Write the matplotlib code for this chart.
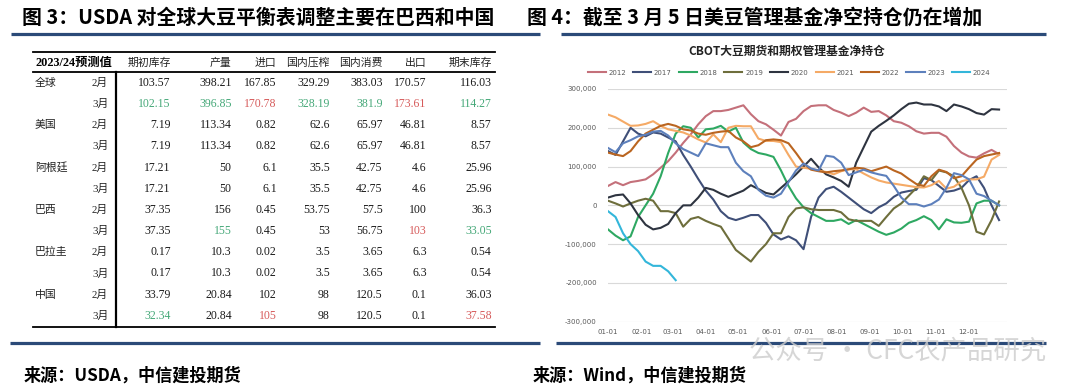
import numpy as np
import matplotlib
matplotlib.use("Agg")
import matplotlib.pyplot as plt
from matplotlib.ticker import FuncFormatter

CJK = ["Noto Sans CJK SC", "DejaVu Sans"]
SERIF = ["Liberation Serif", "Noto Sans CJK SC"]

# ---------------------------------------------------------------
# Left panel: USDA 2023/24 balance sheet (Feb vs Mar estimates)
# ---------------------------------------------------------------
table_cols = ["期初库存", "产量", "进口", "国内压榨", "国内消费", "出口", "期末库存"]
countries = ["全球", "美国", "阿根廷", "巴西", "巴拉圭", "中国"]
months = ["2月", "3月"]
table_rows = [
    ["103.57", "398.21", "167.85", "329.29", "383.03", "170.57", "116.03"],
    ["102.15", "396.85", "170.78", "328.19", "381.9", "173.61", "114.27"],
    ["7.19", "113.34", "0.82", "62.6", "65.97", "46.81", "8.57"],
    ["7.19", "113.34", "0.82", "62.6", "65.97", "46.81", "8.57"],
    ["17.21", "50", "6.1", "35.5", "42.75", "4.6", "25.96"],
    ["17.21", "50", "6.1", "35.5", "42.75", "4.6", "25.96"],
    ["37.35", "156", "0.45", "53.75", "57.5", "100", "36.3"],
    ["37.35", "155", "0.45", "53", "56.75", "103", "33.05"],
    ["0.17", "10.3", "0.02", "3.5", "3.65", "6.3", "0.54"],
    ["0.17", "10.3", "0.02", "3.5", "3.65", "6.3", "0.54"],
    ["33.79", "20.84", "102", "98", "120.5", "0.1", "36.03"],
    ["32.34", "20.84", "105", "98", "120.5", "0.1", "37.58"],
]
# revisions marked in the table: g = cut, r = raised
marks = {
    (1, 0): "g", (1, 1): "g", (1, 2): "r", (1, 3): "g", (1, 4): "g", (1, 5): "r", (1, 6): "g",
    (7, 1): "g", (7, 5): "r", (7, 6): "g",
    (11, 0): "g", (11, 2): "r", (11, 6): "r",
}

# ---------------------------------------------------------------
# Right panel: CBOT soybean managed-money net position (weekly, k lots)
# ---------------------------------------------------------------
years = ["2012", "2017", "2018", "2019", "2020", "2021", "2022", "2023", "2024"]
pos_2012 = [50, 60, 52, 60, 63, 67, 80, 97, 114, 136, 161, 183, 209, 230, 243, 243, 246, 252, 258, 235,
            217, 209, 195, 180, 215, 223, 243, 256, 258, 258, 246, 239, 230, 239, 252, 241, 243, 232, 217, 213,
            204, 191, 185, 187, 187, 177, 153, 136, 126, 123, 134, 143, 132]
pos_2017 = [140, 130, 165, 200, 185, 178, 188, 185, 175, 165, 130, 100, 68, 38, 15, -15, -32, -38, -32, -25,
            -25, -45, -75, -88, -80, -90, -113, -30, 20, 42, 48, 35, 20, 5, -10, -20, -5, 5, 22, 33,
            37, 40, 70, 65, 50, 35, 38, 45, 65, 75, 45, 0, -38]
pos_2018 = [-62, -78, -90, -80, -30, 0, 30, 75, 135, 185, 204, 200, 175, 196, 198, 205, 190, 200, 162, 145,
            135, 131, 125, 90, 50, 18, -5, -20, -30, -40, -40, -36, -48, -38, -48, -58, -68, -76, -70, -60,
            -45, -38, -28, -38, -62, -36, -44, -45, -42, 5, 12, 12, 0]
pos_2019 = [12, 5, -3, 5, 12, 17, 12, -15, -15, -20, -55, -35, -30, -40, -48, -55, -85, -115, -130, -145,
            -120, -100, -72, -72, -30, -8, -5, -10, -12, -12, -12, -18, -36, -40, -40, -40, -53, -30, -8, 5,
            25, 45, 75, 65, 90, 85, 75, 45, 0, -68, -75, -38, 10]
pos_2020 = [20, 26, 28, 5, -25, -50, -62, -58, -48, -20, 0, 0, 20, 45, 40, 30, 22, 30, 38, 52,
            42, 32, 28, 45, 62, 80, 100, 120, 98, 80, 72, 63, 48, 110, 150, 190, 205, 218, 232, 248,
            262, 265, 260, 260, 255, 243, 260, 255, 248, 238, 234, 248, 247]
pos_2021 = [234, 227, 216, 205, 206, 210, 217, 205, 196, 192, 188, 180, 170, 162, 183, 163, 200, 205, 204, 204,
            172, 166, 166, 163, 130, 100, 97, 94, 90, 86, 80, 88, 93, 93, 82, 72, 64, 59, 56, 53,
            50, 47, 46, 52, 63, 43, 48, 62, 67, 67, 74, 118, 130]
pos_2022 = [136, 131, 127, 140, 165, 185, 195, 205, 210, 205, 196, 193, 185, 182, 187, 190, 192, 175, 165, 150,
            155, 168, 170, 168, 160, 135, 108, 92, 88, 85, 88, 90, 93, 97, 95, 88, 94, 100, 90, 82,
            68, 55, 50, 75, 92, 86, 70, 75, 97, 118, 127, 131, 135]
pos_2023 = [148, 137, 160, 168, 178, 182, 190, 192, 180, 160, 145, 136, 127, 160, 155, 150, 150, 110, 88, 75,
            40, 25, 20, 30, 60, 90, 108, 95, 90, 128, 125, 110, 78, 85, 92, 85, 80, 76, 50, 20,
            3, 3, -3, 3, 15, 45, 83, 78, 67, 30, 24, 12, 0]
pos_2024 = [-15, -30, -72, -100, -118, -145, -156, -156, -170, -193]

month_days = [0, 31, 60, 91, 121, 152, 182, 213, 244, 274, 305, 335]
month_labels = ["01-01", "02-01", "03-01", "04-01", "05-01", "06-01",
                "07-01", "08-01", "09-01", "10-01", "11-01", "12-01"]

colors = ["#C4707A", "#3F4F78", "#2EA862", "#6E6E3C", "#2E3440",
          "#F5AA66", "#BA6520", "#5D80BC", "#33B6DA"]

W, H = 1080, 389
def fx(px):
    return px / W
def fy(py):
    return 1 - py / H

fig = plt.figure(figsize=(10.8, 3.89), dpi=100)
bg = fig.add_axes([0, 0, 1, 1])
bg.set_xlim(0, W)
bg.set_ylim(H, 0)
bg.axis("off")

navy = "#2B4A78"
# headings + rules
bg.text(22, 17, "图 3：USDA 对全球大豆平衡表调整主要在巴西和中国", fontsize=14.3,
        fontweight="bold", family=CJK, va="center", ha="left")
bg.text(527, 17, "图 4：截至 3 月 5 日美豆管理基金净空持仓仍在增加", fontsize=14.3,
        fontweight="bold", family=CJK, va="center", ha="left")
bg.plot([11, 540], [34, 34], color=navy, lw=2.3, solid_capstyle="butt")
bg.plot([561, 1046], [34, 34], color=navy, lw=2.3, solid_capstyle="butt")
bg.plot([10, 540], [343, 343], color=navy, lw=2.3, solid_capstyle="butt")
bg.plot([556, 1046], [343, 343], color=navy, lw=2.3, solid_capstyle="butt")
bg.text(24, 376, "来源：USDA，中信建投期货", fontsize=12.3, fontweight="bold",
        family=CJK, va="center", ha="left")
bg.text(533, 376, "来源：Wind，中信建投期货", fontsize=12.3, fontweight="bold",
        family=CJK, va="center", ha="left")

# ---- table ----
col_x = [170.7, 231.7, 276.7, 330, 382.7, 426.7, 491.7]
row_y0, row_dy = 82.7, 21.2
mark_colors = {"g": "#45A878", "r": "#D65A5A"}

bg.plot([33, 495], [51.7, 51.7], color="black", lw=1.3)
bg.plot([33, 495], [72.3, 72.3], color="black", lw=1.3)
bg.plot([33, 495], [326.7, 326.7], color="black", lw=1.3)
bg.plot([115.7, 115.7], [72.3, 326.7], color="black", lw=1.6)

bg.text(35, 62.5, "2023/24预测值", fontsize=8.8, fontweight="bold", family=SERIF,
        va="center", ha="left")
for cx, name in zip(col_x, table_cols):
    bg.text(cx, 62.5, name, fontsize=7.8, family=CJK, va="center", ha="right", color="#222222")

for i, row in enumerate(table_rows):
    y = row_y0 + row_dy * i
    if i % 2 == 0:
        bg.text(35, y, countries[i // 2], fontsize=7.8, family=CJK, va="center", ha="left",
                color="#222222")
    bg.text(92, y, months[i % 2], fontsize=7.8, family=SERIF, va="center", ha="left",
            color="#222222")
    for j, val in enumerate(row):
        c = mark_colors.get(marks.get((i, j), ""), "#1a1a1a")
        bg.text(col_x[j], y, val, fontsize=8.5, family=SERIF, va="center", ha="right", color=c)

# ---- line chart ----
ax = fig.add_axes([fx(608), fy(321.7), fx(1006.6) - fx(608), fy(89) - fy(321.7)])
series = [pos_2012, pos_2017, pos_2018, pos_2019, pos_2020, pos_2021, pos_2022, pos_2023, pos_2024]
for yr, vals, c in zip(years, series, colors):
    ax.plot(np.arange(len(vals)), np.array(vals) * 1000, color=c, lw=1.5, label=yr)

ax.set_xlim(0, 53)
ax.set_ylim(-300000, 300000)
ax.set_yticks(np.arange(-300000, 300001, 100000))
ax.yaxis.set_major_formatter(FuncFormatter(lambda v, p: f"{v:,.0f}"))
ax.set_xticks(np.array(month_days) / 7)
ax.set_xticklabels(month_labels)
ax.grid(axis="y", color="#D9D9D9", lw=0.8)
ax.set_axisbelow(True)
for s in ax.spines.values():
    s.set_visible(False)
ax.tick_params(axis="y", length=0, labelsize=5, colors="#595959", pad=8)
ax.tick_params(axis="x", length=0, labelsize=5, colors="#595959", pad=5)

fig.text(fx(787), fy(51), "CBOT大豆期货和期权管理基金净持仓", fontsize=8.5, fontweight="bold",
         family=CJK, ha="center", va="center", color="#222222")
ax.legend(loc="center", bbox_to_anchor=(fx(789), fy(72.7)), bbox_transform=fig.transFigure,
          ncol=9, frameon=False, fontsize=5, handlelength=2.6, handletextpad=0.4,
          columnspacing=1.0, labelcolor="#595959")

# watermark
bg.text(1046, 351, "公众号 · CFC农产品研究", fontsize=19, family=CJK, color="#CCCCCC",
        alpha=0.8, ha="right", va="center", zorder=5)

fig.savefig("out.png", dpi=100)
